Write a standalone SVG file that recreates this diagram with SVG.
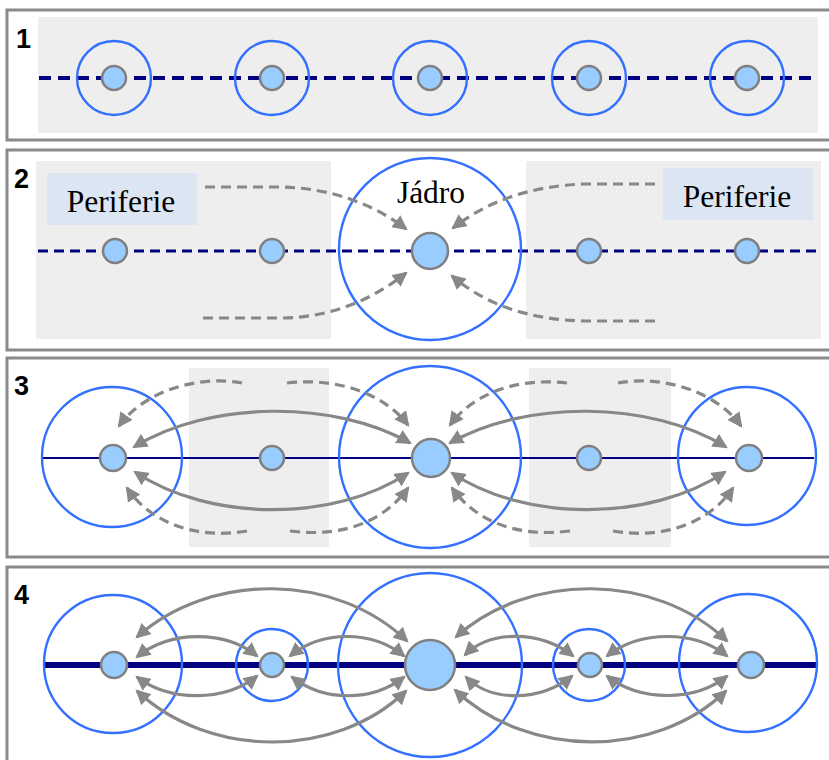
<svg xmlns="http://www.w3.org/2000/svg" width="829" height="760" viewBox="0 0 829 760">
<defs>
<style>
.panel{fill:#ffffff;stroke:#8a8a8a;stroke-width:3}
.zone{fill:#eeeeee}
.lbl{fill:#dce6f2}
.ring{fill:none;stroke:#3370ff;stroke-width:2.4}
.node{fill:#99ccff;stroke:#808080;stroke-width:2.5}
.num{font-family:"Liberation Sans",Arial,sans-serif;font-weight:bold;font-size:27px;fill:#000}
.txt{font-family:"Liberation Serif","Times New Roman",serif;font-size:31.5px;fill:#000;text-anchor:middle}
.arr{fill:none;stroke:#888888;stroke-width:3.2;marker-end:url(#ah)}
.dbl{marker-start:url(#ah)}
.dash{stroke-dasharray:10 6}
.axis{stroke:#000080;fill:none}
</style>
<marker id="ah" viewBox="0 0 14 14" refX="12" refY="7" markerWidth="15" markerHeight="15" markerUnits="userSpaceOnUse" orient="auto-start-reverse">
<path d="M0,0 L14,7 L0,14 z" fill="#888888"/>
</marker>
</defs>

<!-- panel 1 -->
<g id="panel1">
<rect class="panel" x="7" y="10" width="830" height="130"/>
<rect class="zone" x="38" y="17" width="780" height="116"/>
<text class="num" x="16" y="48">1</text>
<line class="axis" x1="39" y1="78" x2="818" y2="78" stroke-width="4" stroke-dasharray="12 7"/>
</g>
<g id="p1n1"><circle class="ring" cx="114" cy="78" r="37"/><circle class="node" cx="114" cy="78" r="12"/></g>
<g id="p1n2"><circle class="ring" cx="272" cy="78" r="37"/><circle class="node" cx="272" cy="78" r="12"/></g>
<g id="p1n3"><circle class="ring" cx="430" cy="78" r="37"/><circle class="node" cx="430" cy="78" r="12"/></g>
<g id="p1n4"><circle class="ring" cx="589" cy="78" r="37"/><circle class="node" cx="589" cy="78" r="12"/></g>
<g id="p1n5"><circle class="ring" cx="747" cy="78" r="37"/><circle class="node" cx="747" cy="78" r="12"/></g>

<!-- panel 2 -->
<g id="panel2">
<rect class="panel" x="7" y="150" width="830" height="200"/>
<rect class="zone" x="36" y="161" width="295" height="178"/>
<rect class="zone" x="526" y="161" width="295" height="178"/>
<text class="num" x="14" y="188">2</text>
<line class="axis" x1="38" y1="251" x2="818" y2="251" stroke-width="3" stroke-dasharray="10 6"/>
</g>
<g id="p2lblL"><rect class="lbl" x="47" y="173" width="150" height="52"/><text class="txt" x="121" y="212">Periferie</text></g>
<g id="p2lblR"><rect class="lbl" x="663" y="168" width="150" height="52"/><text class="txt" x="737" y="207">Periferie</text></g>
<g id="p2n1"><circle class="node" cx="115" cy="251" r="12"/></g>
<g id="p2n2"><circle class="node" cx="272" cy="251" r="12"/></g>
<g id="p2core"><circle class="ring" cx="430" cy="249" r="91"/><circle class="node" cx="430" cy="251" r="18"/><text class="txt" x="431" y="203">Jádro</text></g>
<g id="p2n4"><circle class="node" cx="589" cy="251" r="12"/></g>
<g id="p2n5"><circle class="node" cx="747" cy="251" r="12"/></g>

<!-- panel 3 -->
<g id="panel3">
<rect class="panel" x="7" y="358" width="830" height="199"/>
<rect class="zone" x="189" y="368" width="140" height="179"/>
<rect class="zone" x="529" y="368" width="142" height="179"/>
<text class="num" x="14" y="395">3</text>
<line class="axis" x1="42" y1="458" x2="814" y2="458" stroke-width="2"/>
</g>
<g id="p3n1"><circle class="ring" cx="112" cy="457" r="70"/><circle class="node" cx="113" cy="458" r="13"/></g>
<g id="p3n2"><circle class="node" cx="272" cy="458" r="12"/></g>
<g id="p3core"><circle class="ring" cx="430" cy="457" r="91"/><circle class="node" cx="431" cy="458" r="19"/></g>
<g id="p3n4"><circle class="node" cx="589" cy="458" r="12"/></g>
<g id="p3n5"><circle class="ring" cx="747" cy="456" r="69"/><circle class="node" cx="749" cy="458" r="13"/></g>

<!-- panel 4 -->
<g id="panel4">
<rect class="panel" x="7" y="567" width="830" height="220"/>
<text class="num" x="14" y="604">4</text>
<line class="axis" x1="44" y1="665" x2="817" y2="665" stroke-width="6"/>
</g>
<g id="p4n1"><circle class="ring" cx="113" cy="664" r="69"/><circle class="node" cx="114" cy="665" r="13"/></g>
<g id="p4n2"><circle class="ring" cx="272" cy="665" r="36"/><circle class="node" cx="272" cy="665" r="12"/></g>
<g id="p4core"><circle class="ring" cx="430" cy="665" r="92"/><circle class="node" cx="430" cy="665" r="25" stroke-width="5"/></g>
<g id="p4n4"><circle class="ring" cx="589" cy="665" r="36"/><circle class="node" cx="590" cy="665" r="12"/></g>
<g id="p4n5"><circle class="ring" cx="748" cy="663" r="69"/><circle class="node" cx="751" cy="665" r="13"/></g>

<!-- connectors -->
<g id="connectors">
<!-- panel 2 -->
<path class="arr dash" d="M205,187 L280,187 C330,188 372,203 406,229"/>
<path class="arr dash" d="M203,318 L280,318 C330,318 372,300 406,273"/>
<path class="arr dash" d="M655,184 L585,184 C530,186 488,201 453,228"/>
<path class="arr dash" d="M655,321 L585,321 C530,320 486,305 452,276"/>
<!-- panel 3 -->
<path class="arr dbl" d="M134,447 C210,400 335,400 410,443"/>
<path class="arr dbl" d="M135,472 C210,522 335,522 408,473"/>
<path class="arr dash" d="M242,383 C200,375 145,390 119,426"/>
<path class="arr dash" d="M287,383 C340,377 385,395 408,425"/>
<path class="arr dash" d="M247,531 C195,540 150,522 127,488"/>
<path class="arr dash" d="M290,531 C345,538 385,520 408,488"/>
<path class="arr dbl" d="M726,447 C650,400 525,400 450,443"/>
<path class="arr dbl" d="M725,472 C650,522 525,522 452,473"/>
<path class="arr dash" d="M618,383 C660,375 715,390 741,426"/>
<path class="arr dash" d="M567,383 C515,377 472,395 450,425"/>
<path class="arr dash" d="M613,531 C665,540 710,522 733,488"/>
<path class="arr dash" d="M570,531 C515,538 475,520 452,488"/>
<!-- panel 4 -->
<path class="arr dbl" d="M137,637 C210,572 335,572 407,641"/>
<path class="arr dbl" d="M137,657 C170,630 225,630 257,656"/>
<path class="arr dbl" d="M290,656 C322,630 372,630 404,656"/>
<path class="arr dbl" d="M137,677 C170,702 225,702 257,676"/>
<path class="arr dbl" d="M292,677 C324,702 372,702 404,677"/>
<path class="arr dbl" d="M137,691 C210,759 335,759 406,691"/>
<path class="arr dbl" d="M727,641 C655,572 528,572 456,637"/>
<path class="arr dbl" d="M727,656 C695,630 640,630 607,656"/>
<path class="arr dbl" d="M573,656 C540,630 490,630 465,655"/>
<path class="arr dbl" d="M727,676 C695,702 640,702 607,676"/>
<path class="arr dbl" d="M572,676 C540,702 490,702 466,677"/>
<path class="arr dbl" d="M726,691 C655,759 528,759 455,690"/>
</g>
</svg>
